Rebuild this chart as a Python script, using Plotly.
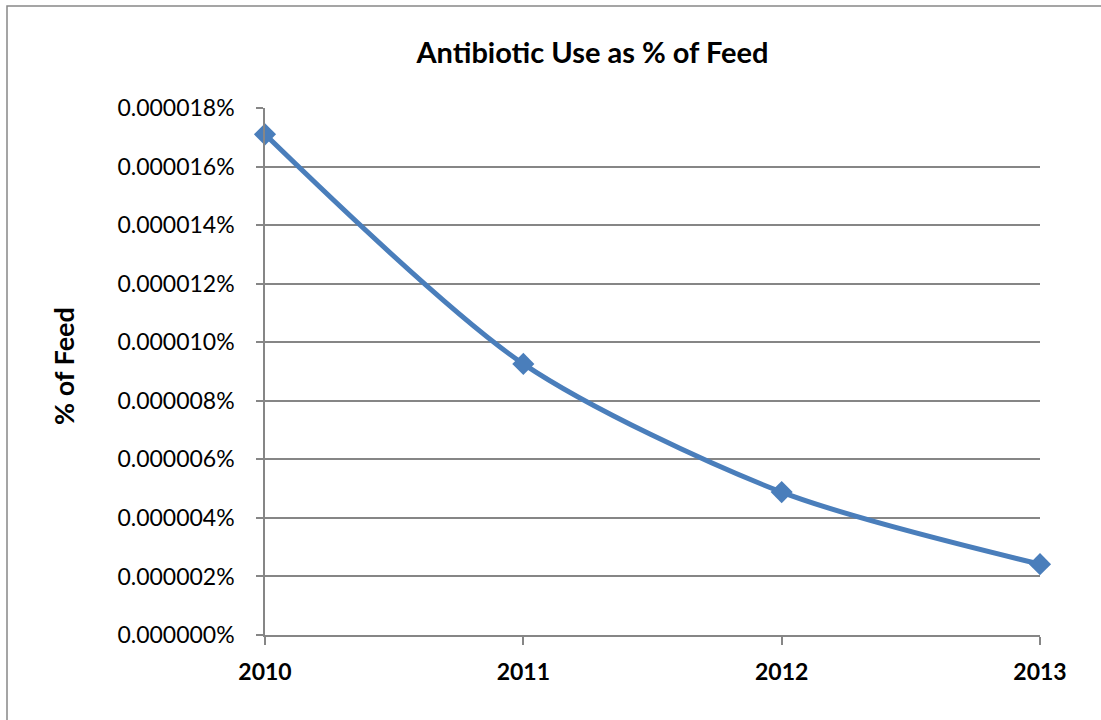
import plotly.graph_objects as go

years = ["2010", "2011", "2012", "2013"]
# values as fraction (displayed as percent)
use_pct = [0.0000171, 0.00000926, 0.00000488, 0.00000242]
values = [v / 100 for v in use_pct]

title_text = "Antibiotic Use as % of Feed"
y_title = "% of Feed"

FONT = "Lato"
GRID = "#868686"
BLUE = "#4A7EBB"

L, R, T, B = 265, 1040, 108, 635
W, H = 1101, 720
pw, ph = R - L, B - T

fig = go.Figure()
fig.add_trace(go.Scatter(
    x=years, y=values, mode="lines+markers",
    line=dict(color=BLUE, width=5, shape="spline", smoothing=0.8),
    marker=dict(symbol="diamond", size=17, color=BLUE),
    cliponaxis=False, showlegend=False,
))

fig.update_layout(
    width=W, height=H,
    margin=dict(l=L, r=W - R, t=T, b=H - B),
    paper_bgcolor="white", plot_bgcolor="white",
    title=dict(text="<b>" + title_text + "</b>", x=(415 + 770) / 2 / W, xanchor="center",
               y=1 - 53 / H, yanchor="middle", font=dict(family=FONT, size=29, color="black")),
    xaxis=dict(type="category", range=[0, 3], showgrid=False, showline=True, linecolor=GRID, linewidth=1.5,
               ticks="outside", ticklen=8, tickcolor=GRID, tickwidth=1.5,
               ticklabelstandoff=8,
               tickfont=dict(family=FONT, size=23, color="black"),
               tickprefix="<b>", ticksuffix="</b>"),
    yaxis=dict(range=[0, 1.8e-7], dtick=2e-8, tickformat=".6%", showgrid=True, gridcolor=GRID, gridwidth=1.5,
               showline=True, linecolor=GRID, linewidth=1.5, zeroline=False,
               ticks="outside", ticklen=7, tickcolor=GRID, tickwidth=1.5,
               ticklabelstandoff=17,
               tickfont=dict(family=FONT, size=23, color="black")),
    annotations=[dict(text="<b>" + y_title + "</b>", xref="paper", yref="paper",
                      x=(63 - L) / pw, y=(B - 366) / ph, xanchor="center", yanchor="middle",
                      textangle=-90, showarrow=False, font=dict(family=FONT, size=27, color="black"))],
    shapes=[dict(type="rect", xref="paper", yref="paper",
                 x0=(7 - L) / pw, x1=(1110 - L) / pw, y0=(B - 730) / ph, y1=(B - 6) / ph,
                 line=dict(color="#888888", width=1.5), fillcolor="rgba(0,0,0,0)", layer="below")],
)

fig.write_html("out.html")
